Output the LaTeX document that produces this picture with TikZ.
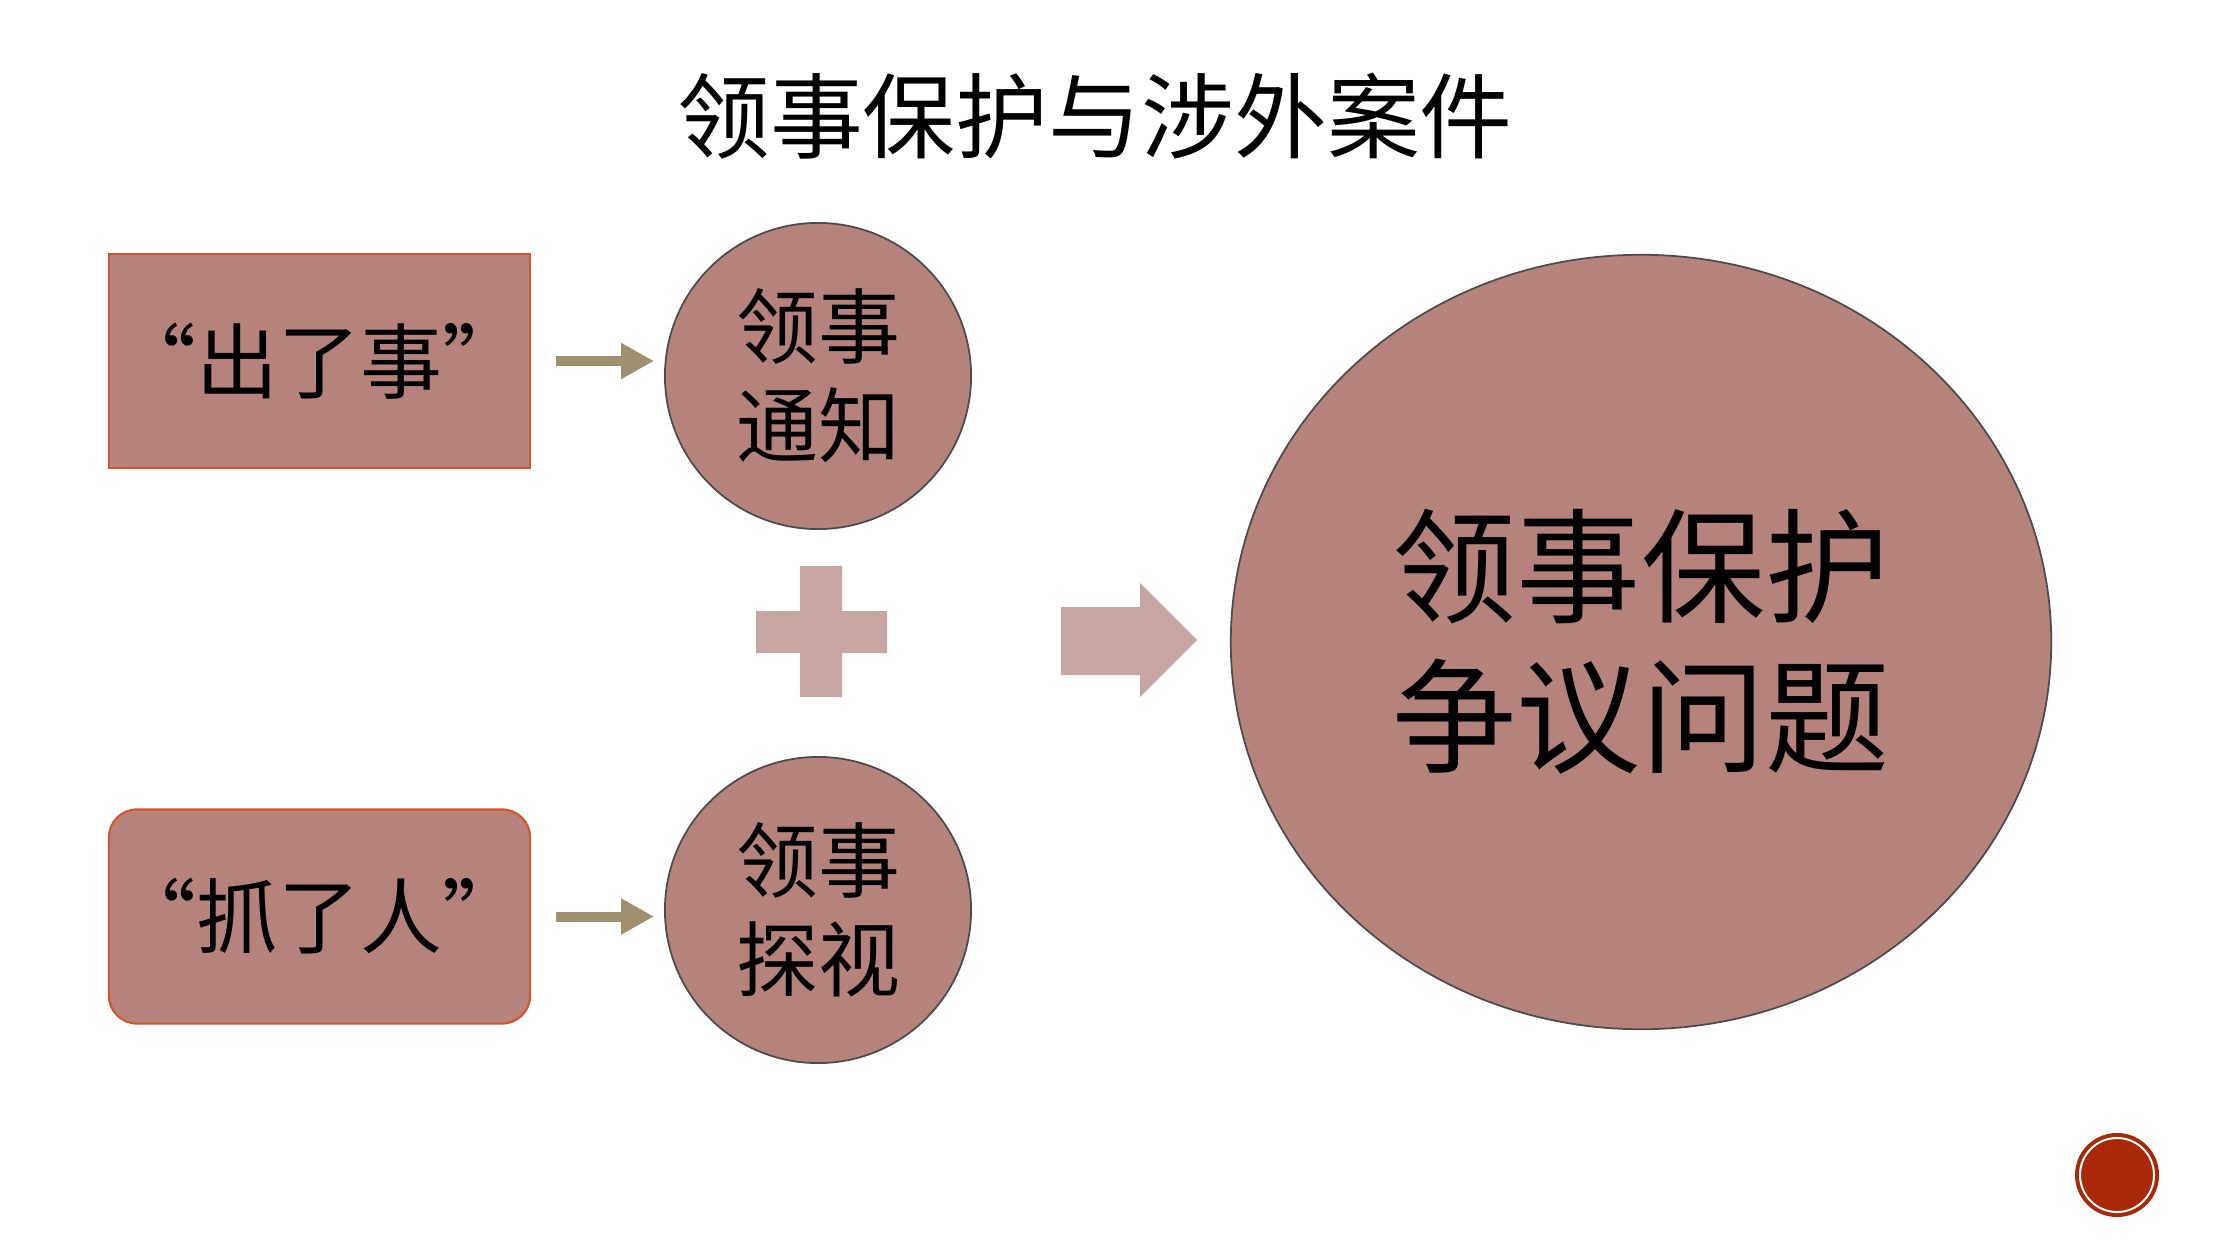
\documentclass[tikz,border=0pt]{standalone}
\usepackage{fontspec}
\newfontfamily\cjk{Noto Sans CJK SC}
\usetikzlibrary{shapes.geometric,arrows.meta}
\definecolor{boxfill}{RGB}{181,130,124}
\definecolor{boxedge}{RGB}{214,84,44}
\definecolor{tan}{RGB}{160,144,112}
\definecolor{pale}{RGB}{198,165,162}
\definecolor{dotred}{RGB}{168,40,8}
\tikzset{
  sq/.style={draw=boxedge, line width=0.6pt, fill=boxfill, minimum width=4.21cm, minimum height=2.14cm, font=\cjk\fontsize{23.3}{28}\selectfont, text=black, inner sep=0pt},
  rd/.style={circle, draw=black!70, line width=0.5pt, fill=boxfill, minimum size=3.06cm, inner sep=0pt, align=center, font=\cjk\fontsize{23.3}{28.2}\selectfont, text=black},
  big/.style={ellipse, draw=black!70, line width=0.5pt, fill=boxfill, minimum width=8.2cm, minimum height=7.74cm, inner sep=0pt, align=center, font=\cjk\fontsize{35.3}{42.7}\selectfont, text=black},
  link/.style={draw=tan, line width=0.1cm, -{Triangle[length=0.33cm,width=0.34cm]}}
}
\begin{document}
\begin{tikzpicture}[x=0.01cm,y=-0.01cm]
\useasboundingbox (0,0) rectangle (2216,1249);
\fill[white] (0,0) rectangle (2216,1249);
\node[font=\cjk\fontsize{26.4}{30}\selectfont] (title) at (1095,116) {领事保护与涉外案件};
\node[sq] (b1) at (319.5,361) {“出了事”};
\node[sq, rounded corners=0.28cm] (b2) at (319.5,916.5) {“抓了人”};
\node[rd] (c1) at (818,376) {领事\\通知};
\node[rd] (c2) at (818,910) {领事\\探视};
\node[big] (e) at (1641,642) {领事保护\\争议问题};
\draw[link, shorten <=0.25cm, shorten >=0.1cm] (b1.east) -- (b1.east -| c1.west);
\draw[link, shorten <=0.25cm, shorten >=0.1cm] (b2.east) -- (b2.east -| c2.west);
% plus sign
\fill[pale] (800,566) -- (842,566) -- (842,611) -- (887,611) -- (887,653) -- (842,653) -- (842,697) -- (800,697) -- (800,653) -- (756,653) -- (756,611) -- (800,611) -- cycle;
% block arrow
\fill[pale] (1061,607) -- (1140,607) -- (1140,583) -- (1197,640) -- (1140,697) -- (1140,675) -- (1061,675) -- cycle;
% corner dot
\node[circle, fill=dotred, minimum size=0.84cm, inner sep=0pt] (dot) at (2117,1175) {};
\draw[white, line width=0.02cm] (dot.center) circle (0.37cm);
\end{tikzpicture}
\end{document}
